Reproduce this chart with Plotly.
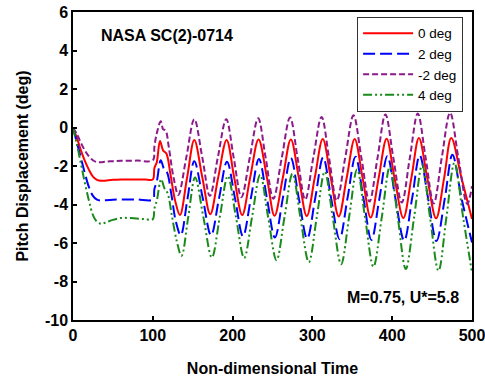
import plotly.graph_objects as go

# ---- data ----
t_red = [0, 5, 10, 15, 20, 25, 30, 35, 40, 50, 60, 70, 80, 90, 100, 102, 105, 109, 113, 117, 122, 128, 134,
         143, 152, 162, 172, 182, 192.5, 202, 212, 222, 232.5, 243, 252.5, 263, 273, 283, 293, 303, 313,
         323, 333, 343, 353, 363, 373, 383, 393, 403, 414, 424, 433.5, 444, 455, 465, 474, 487, 500]
y_red = [0, -0.55, -1.2, -1.75, -2.2, -2.55, -2.72, -2.77, -2.76, -2.72, -2.7, -2.7, -2.7, -2.7, -2.7, -2.1,
         -1.8, -0.7, -1.2, -1.35, -2.4, -3.8, -4.55,
         -2.6, -0.65, -2.58, -4.5, -2.58, -0.65, -2.6, -4.55, -2.6, -0.62, -2.6, -4.58, -2.6, -0.62, -2.61,
         -4.6, -2.6, -0.6, -2.61, -4.62, -2.61, -0.6, -2.64, -4.68, -2.63, -0.58, -2.64, -4.7, -2.63, -0.55,
         -2.64, -4.72, -2.64, -0.55, -2.65, -4.75]

t_blue = [0, 5, 10, 15, 20, 25, 30, 35, 40, 50, 60, 80, 100, 102, 105, 110, 114, 118, 123, 129, 135,
          143.5, 152, 162.5, 173, 183, 193, 203, 213, 223, 233, 243, 253, 263, 273, 283, 293.5, 303.5,
          313.5, 323.5, 334, 344, 354, 364, 374, 384, 394, 404, 415, 425, 434.5, 445, 455.5, 466, 475.5,
          487, 500]
y_blue = [0, -0.8, -1.6, -2.4, -3.1, -3.55, -3.75, -3.8, -3.78, -3.75, -3.74, -3.74, -3.74, -3.2, -2.8,
          -1.7, -2.15, -2.35, -3.4, -4.9, -5.6,
          -3.7, -1.75, -3.65, -5.6, -3.68, -1.78, -3.68, -5.65, -3.65, -1.64, -3.67, -5.72, -3.67, -1.58,
          -3.68, -5.77, -3.68, -1.55, -3.68, -5.8, -3.67, -1.52, -3.68, -5.84, -3.68, -1.48, -3.68, -5.88,
          -3.67, -1.45, -3.68, -5.9, -3.67, -1.42, -3.7, -5.97]

t_purple = [0, 5, 10, 15, 20, 25, 30, 35, 40, 50, 60, 80, 100, 102, 105, 110, 113, 116, 120, 126, 132,
            142, 152, 162, 171.5, 181.5, 192, 201.5, 211, 221.5, 232, 241.5, 251, 261.5, 272, 281.5, 291,
            301, 311.5, 321, 330.5, 341, 351.5, 361.5, 371.5, 381.5, 391.5, 401.5, 412, 422, 432, 442, 452,
            462, 472.5, 483, 494, 500]
y_purple = [0, -0.35, -0.8, -1.2, -1.5, -1.7, -1.8, -1.8, -1.78, -1.75, -1.73, -1.72, -1.7, -1.0, -0.3,
            0.32, -0.1, -0.15, -1.0, -2.6, -3.5,
            -1.55, 0.43, -1.55, -3.55, -1.55, 0.43, -1.6, -3.62, -1.57, 0.48, -1.6, -3.7, -1.6, 0.52, -1.6,
            -3.75, -1.6, 0.55, -1.62, -3.8, -1.6, 0.63, -1.6, -3.85, -1.6, 0.68, -1.6, -3.9, -1.6, 0.73,
            -1.6, -3.95, -1.6, 0.77, -1.6, -3.97, -3.05]

t_green = [0, 5, 10, 15, 20, 25, 30, 35, 40, 50, 60, 70, 80, 90, 100, 102, 105, 110.5, 114.5, 118.5, 124,
           130, 136, 144.5, 153, 163.5, 174, 184, 194, 204, 214.5, 224.5, 234.5, 244.5, 255, 265, 275, 285,
           295.5, 305.5, 315.5, 325.5, 336, 346, 356, 366, 376.5, 387, 397, 407, 417, 427.5, 437.5, 447.5,
           458, 468, 478, 489, 500]
y_green = [0, -0.9, -1.9, -2.9, -3.8, -4.55, -4.9, -5.0, -4.95, -4.8, -4.7, -4.7, -4.73, -4.76, -4.76, -4.2,
           -3.8, -2.68, -3.15, -3.4, -4.6, -5.9, -6.66,
           -4.63, -2.6, -4.68, -6.75, -4.64, -2.52, -4.6, -6.78, -4.62, -2.45, -4.65, -6.9, -4.67, -2.4,
           -4.68, -7.0, -4.65, -2.3, -4.68, -7.1, -4.65, -2.18, -4.68, -7.23, -4.65, -2.06, -4.68, -7.35,
           -4.65, -1.95, -4.7, -7.44, -4.65, -1.83, -4.7, -7.55]

names = ["0 deg", "2 deg", "-2 deg", "4 deg"]
x_ticks = [0, 100, 200, 300, 400, 500]
y_ticks = [-10, -8, -6, -4, -2, 0, 2, 4, 6]

FONT = "Arial, 'Liberation Sans', sans-serif"

series = [
    (t_red, y_red, names[0], "#ff0000", "solid"),
    (t_blue, y_blue, names[1], "#0000ff", "12px,5px"),
    (t_purple, y_purple, names[2], "#8b1a8b", "6px,3px"),
    (t_green, y_green, names[3], "#1a8a1a", "9px,3px,2px,3px,2px,3px"),
]

fig = go.Figure()
for tx, yy, nm, col, dash in series:
    fig.add_trace(go.Scatter(x=tx, y=yy, name=nm, mode="lines",
                             line=dict(color=col, width=2, dash=dash, shape="spline", smoothing=1.0)))

axis_common = dict(showline=True, linecolor="black", linewidth=1.5, mirror=True, showgrid=False,
                   zeroline=False, ticks="inside", ticklen=4, tickwidth=1.5, tickcolor="black",
                   automargin=False, ticklabeloverflow="allow",
                   tickfont=dict(family=FONT, size=16, color="black", weight="bold"))

fig.update_xaxes(range=[0, 500], tickvals=x_ticks, ticktext=[str(v) for v in x_ticks],
                 title=dict(text="Non-dimensional Time", standoff=20,
                            font=dict(family=FONT, size=16, color="black", weight="bold")),
                 **axis_common)
fig.update_yaxes(range=[-10, 6], tickvals=y_ticks, ticktext=[str(v) for v in y_ticks],
                 title=dict(text="Pitch Displacement (deg)", standoff=12,
                            font=dict(family=FONT, size=16, color="black", weight="bold")),
                 **axis_common)

fig.add_annotation(x=32, y=4.8, xref="x", yref="y", text="NASA SC(2)-0714", showarrow=False,
                   xanchor="left", yanchor="middle",
                   font=dict(family=FONT, size=16, color="black", weight="bold"))
fig.add_annotation(x=486, y=-8.84, xref="x", yref="y", text="M=0.75, U*=5.8", showarrow=False,
                   xanchor="right", yanchor="middle",
                   font=dict(family=FONT, size=16, color="black", weight="bold"))

fig.update_layout(
    width=485, height=382,
    margin=dict(l=73, r=13, t=12, b=62, autoexpand=False),
    paper_bgcolor="white", plot_bgcolor="white",
    showlegend=True,
    legend=dict(x=0.712, y=0.984, xanchor="left", yanchor="top", bgcolor="white",
                bordercolor="#333333", borderwidth=1, itemwidth=50, tracegroupgap=0,
                entrywidth=60,
                font=dict(family=FONT, size=13.5, color="black")),
)

fig.write_html("out.html")
